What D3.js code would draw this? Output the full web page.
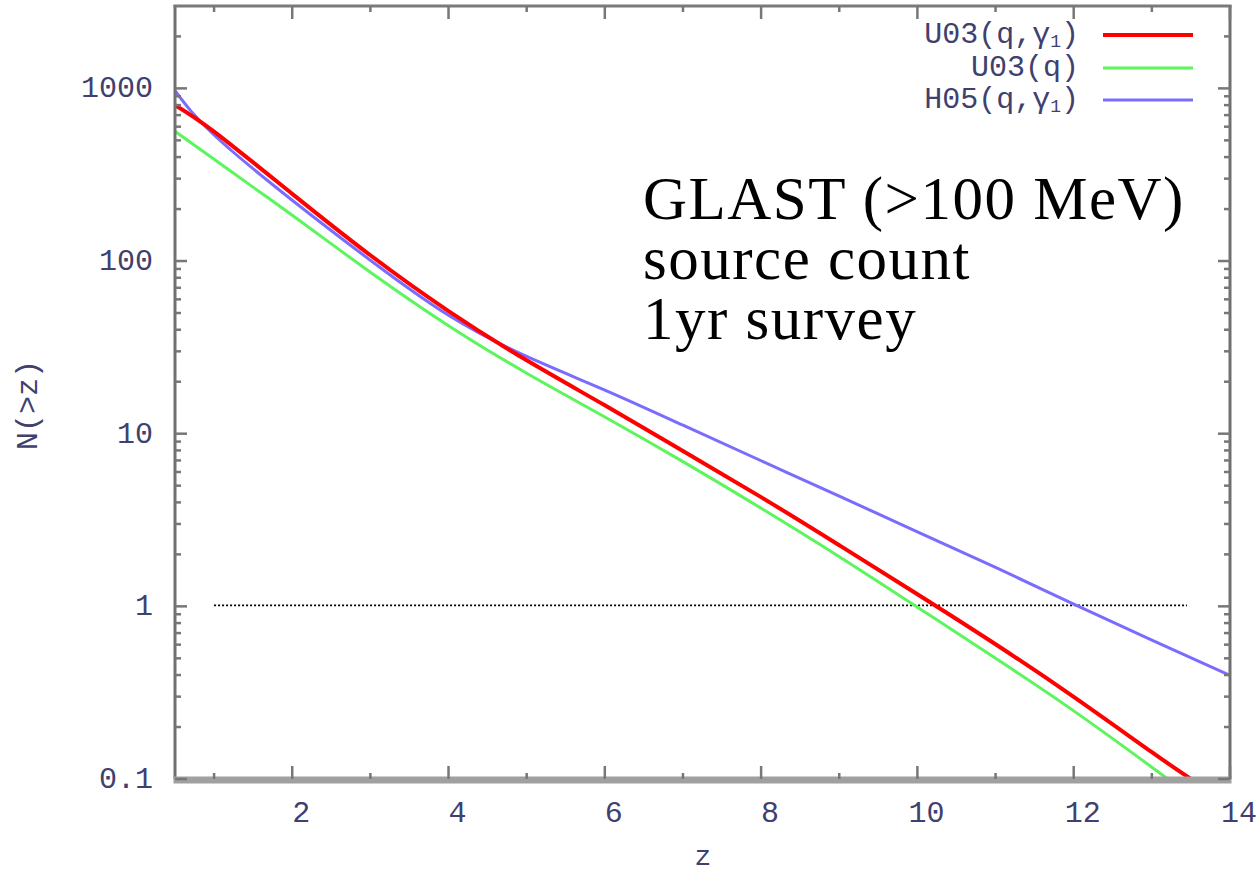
<!DOCTYPE html>
<html>
<head>
<meta charset="utf-8">
<script src="https://cdnjs.cloudflare.com/ajax/libs/d3/7.8.5/d3.min.js"></script>
<style>
  html, body { margin: 0; padding: 0; background: #fff; }
  svg { display: block; }
  .tick-label { font-family: "Liberation Mono", "DejaVu Sans Mono", monospace; font-size: 30px; fill: #40406e; }
  .note { font-family: "Liberation Serif", "Times New Roman", serif; font-size: 61px; letter-spacing: 1.5px; fill: #000; }
</style>
</head>
<body>
<svg id="chart" width="1258" height="875"></svg>
<script>
// Redshift grid at which each model curve is sampled
const zU03g = [0.5, 1, 2, 3, 4, 5, 6, 7, 8, 9, 10, 11, 12, 13, 13.5];
const nU03g = [800, 562, 245, 108, 51.3, 26.6, 14.6, 7.94, 4.29, 2.26, 1.175, 0.603, 0.299, 0.143, 0.1];

const zU03 = [0.5, 1, 2, 3, 4, 5, 6, 7, 8, 9, 10, 11, 12, 13, 13.2];
const nU03 = [564, 389, 184, 86.1, 42.2, 22.4, 12.5, 6.89, 3.70, 1.94, 0.989, 0.50, 0.248, 0.117, 0.1];

const zH05 = [0.5, 1, 2, 3, 4, 5, 6, 7, 8, 9, 10, 11, 12, 13, 14];
const nH05 = [970, 537, 225, 101, 48.5, 28.0, 17.9, 11.2, 6.97, 4.35, 2.70, 1.68, 1.03, 0.638, 0.398];

// Detection threshold: one source
const thresholdZ = [1, 13.45];
const thresholdN = 1;

const xMajorTicks = [2, 4, 6, 8, 10, 12, 14];
const xMinorTicks = [1, 3, 5, 7, 9, 11, 13];
const yMajorTicks = [0.1, 1, 10, 100, 1000];
const yTickLabels = ["0.1", "1", "10", "100", "1000"];

const seriesNames = ["U03(q,\u03b3", "U03(q)", "H05(q,\u03b3"];
const seriesSub = ["1", "", "1"];
const seriesColors = ["#ff0000", "#5cf55c", "#7a6cff"];
const seriesWidths = [4, 3, 3];

const noteLines = ["GLAST (>100 MeV)", "source count", "1yr survey"];

const plot = { left: 175, right: 1230, top: 6, bottom: 779 };

const svg = d3.select("#chart");

const x = d3.scaleLinear().domain([0.5, 14]).range([plot.left, plot.right]);
const y = d3.scaleLog().domain([0.1, 3000]).range([plot.bottom, plot.top]);

// Minor log ticks: 2..9 within each decade
const yMinorTicks = [];
for (let d = -1; d <= 3; d++) {
  for (let m = 2; m <= 9; m++) {
    const v = m * Math.pow(10, d);
    if (v < 3000) yMinorTicks.push(v);
  }
}

const clipId = "plot-clip";
svg.append("clipPath").attr("id", clipId)
  .append("rect")
  .attr("x", plot.left).attr("y", plot.top)
  .attr("width", plot.right - plot.left).attr("height", plot.bottom - plot.top);

// Threshold line N = 1
svg.append("line")
  .attr("x1", x(thresholdZ[0])).attr("x2", x(thresholdZ[1]))
  .attr("y1", y(thresholdN) - 1).attr("y2", y(thresholdN) - 1)
  .attr("stroke", "#000").attr("stroke-width", 1.6)
  .attr("stroke-dasharray", "2,2");

// Model curves
const series = [
  { z: zU03g, n: nU03g },
  { z: zU03, n: nU03 },
  { z: zH05, n: nH05 }
];
const line = d3.line()
  .x(d => x(d[0])).y(d => y(d[1]))
  .curve(d3.curveNatural);

const curves = svg.append("g").attr("clip-path", `url(#${clipId})`);
// draw order: blue, green, red on top
[2, 1, 0].forEach(i => {
  const pts = series[i].z.map((z, k) => [z, series[i].n[k]]);
  curves.append("path")
    .attr("d", line(pts))
    .attr("fill", "none")
    .attr("stroke", seriesColors[i])
    .attr("stroke-width", seriesWidths[i])
    .attr("stroke-linejoin", "round");
});

// Frame
const frame = svg.append("g");
frame.append("line").attr("x1", plot.left).attr("x2", plot.left)
  .attr("y1", plot.top - 1).attr("y2", plot.bottom)
  .attr("stroke", "#707070").attr("stroke-width", 3);
frame.append("line").attr("x1", plot.right).attr("x2", plot.right)
  .attr("y1", plot.top - 1).attr("y2", plot.bottom)
  .attr("stroke", "#707070").attr("stroke-width", 3);
frame.append("line").attr("x1", plot.left - 1.5).attr("x2", plot.right + 1.5)
  .attr("y1", plot.top).attr("y2", plot.top)
  .attr("stroke", "#7a7a7a").attr("stroke-width", 3);
frame.append("line").attr("x1", plot.left - 1.5).attr("x2", plot.right + 1.5)
  .attr("y1", plot.bottom + 1).attr("y2", plot.bottom + 1)
  .attr("stroke", "#a0a0a0").attr("stroke-width", 7);

// Ticks
const tickColor = "#777";
const ticks = svg.append("g").attr("stroke", tickColor).attr("stroke-width", 2.5);
yMajorTicks.forEach(v => {
  ticks.append("line").attr("x1", plot.left).attr("x2", plot.left + 12).attr("y1", y(v)).attr("y2", y(v));
  ticks.append("line").attr("x1", plot.right).attr("x2", plot.right - 12).attr("y1", y(v)).attr("y2", y(v));
});
yMinorTicks.forEach(v => {
  ticks.append("line").attr("x1", plot.left).attr("x2", plot.left + 6).attr("y1", y(v)).attr("y2", y(v));
  ticks.append("line").attr("x1", plot.right).attr("x2", plot.right - 6).attr("y1", y(v)).attr("y2", y(v));
});
xMajorTicks.forEach(v => {
  ticks.append("line").attr("x1", x(v)).attr("x2", x(v)).attr("y1", plot.bottom).attr("y2", plot.bottom - 13);
  ticks.append("line").attr("x1", x(v)).attr("x2", x(v)).attr("y1", plot.top).attr("y2", plot.top + 13);
});
xMinorTicks.forEach(v => {
  ticks.append("line").attr("x1", x(v)).attr("x2", x(v)).attr("y1", plot.bottom).attr("y2", plot.bottom - 6);
  ticks.append("line").attr("x1", x(v)).attr("x2", x(v)).attr("y1", plot.top).attr("y2", plot.top + 6);
});

// Y tick labels
svg.append("g").selectAll("text")
  .data(yMajorTicks)
  .join("text")
  .attr("class", "tick-label")
  .attr("x", 153)
  .attr("y", d => y(d) + 9)
  .attr("text-anchor", "end")
  .text((d, i) => yTickLabels[i]);

// X tick labels
svg.append("g").selectAll("text")
  .data(xMajorTicks)
  .join("text")
  .attr("class", "tick-label")
  .attr("x", d => x(d) + 9)
  .attr("y", 822)
  .attr("text-anchor", "middle")
  .text(d => String(d));

// Axis titles
svg.append("text")
  .attr("class", "tick-label")
  .style("font-size", "28px")
  .attr("x", 703).attr("y", 865)
  .attr("text-anchor", "middle")
  .text("z");

svg.append("text")
  .attr("class", "tick-label")
  .attr("transform", "translate(37,405) rotate(-90)")
  .attr("text-anchor", "middle")
  .text("N(>z)");

// Legend
const legendRows = [35, 68, 100];
const legend = svg.append("g");
seriesNames.forEach((name, i) => {
  const t = legend.append("text")
    .attr("class", "tick-label")
    .attr("x", 1079)
    .attr("y", legendRows[i] + 8)
    .attr("text-anchor", "end");
  t.append("tspan").text(name);
  if (seriesSub[i]) {
    t.append("tspan").attr("dy", 4).style("font-size", "18px").text(seriesSub[i]);
    t.append("tspan").attr("dy", -4).text(")");
  }
  legend.append("line")
    .attr("x1", 1103).attr("x2", 1193)
    .attr("y1", legendRows[i]).attr("y2", legendRows[i])
    .attr("stroke", seriesColors[i])
    .attr("stroke-width", seriesWidths[i]);
});

// Annotation
const note = svg.append("text").attr("class", "note");
noteLines.forEach((s, i) => {
  note.append("tspan").attr("x", 643).attr("y", 219 + i * 60).text(s);
});
</script>
</body>
</html>
